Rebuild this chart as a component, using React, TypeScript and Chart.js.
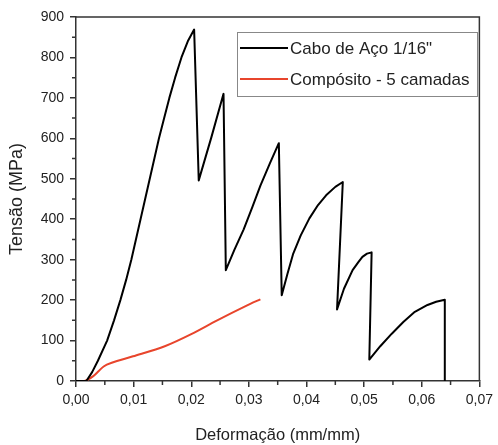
import { useEffect, useRef } from 'react';
import { Chart, registerables } from 'chart.js';

Chart.register(...registerables);

const FONT = '"Liberation Sans", Arial, Helvetica, sans-serif';

// Cabo de Aço 1/16"
const cableStrain = [0, 0.0018, 0.0028, 0.0038, 0.0054, 0.0066, 0.0077, 0.0087, 0.0096, 0.0104, 0.0112, 0.0120, 0.0128, 0.0136, 0.0144, 0.0153, 0.0162, 0.0172, 0.0183, 0.0194, 0.0205,
  0.0213, 0.0235, 0.0256,
  0.0260, 0.0275, 0.0291, 0.0306, 0.0320, 0.0337, 0.0352,
  0.0357, 0.0367, 0.0377, 0.0390, 0.0405, 0.0420, 0.0434, 0.0450, 0.0463,
  0.0453, 0.0465, 0.0480, 0.0490, 0.0497, 0.0505, 0.0513,
  0.0509, 0.0528, 0.0548, 0.0568, 0.0588, 0.0610, 0.0625, 0.0640, 0.0640];
const cableStress = [0, 0, 22, 50, 100, 150, 200, 250, 300, 350, 400, 450, 500, 550, 600, 650, 700, 750, 800, 840, 869,
  496, 603, 710,
  274, 325, 375, 430, 483, 540, 588,
  212, 265, 315, 360, 402, 435, 459, 480, 492,
  177, 228, 274, 294, 307, 315, 318,
  53, 86, 117, 146, 171, 188, 196, 201, 0];

// Compósito - 5 camadas
const compStrain = [0, 0.0015, 0.0030, 0.0048, 0.0062, 0.0099, 0.0154, 0.0200, 0.0245, 0.0297, 0.0320];
const compStress = [0, 0, 12, 36, 45, 61, 86, 116, 150, 187, 202];

const seriesLabels = ['Cabo de Aço 1/16"', 'Compósito - 5 camadas'];
const seriesColors = ['#000000', '#E8452C'];

const xTitle = 'Deformação (mm/mm)';
const yTitle = 'Tensão (MPa)';

const decorPlugin = {
  id: 'decor',
  afterDraw(chart: any) {
    const ctx = chart.ctx;
    const { left, top, right, bottom } = chart.chartArea;
    const xs = chart.scales.x;
    const ys = chart.scales.y;
    ctx.save();
    ctx.strokeStyle = '#333';
    ctx.lineWidth = 1.5;
    // frame top + right
    ctx.beginPath();
    ctx.moveTo(left, top);
    ctx.lineTo(right, top);
    ctx.lineTo(right, bottom);
    ctx.stroke();
    // minor ticks
    ctx.beginPath();
    for (let i = 0; i < 7; i++) {
      const px = xs.getPixelForValue(0.005 + i * 0.01);
      ctx.moveTo(px, bottom);
      ctx.lineTo(px, bottom + 4);
    }
    for (let i = 0; i < 9; i++) {
      const py = ys.getPixelForValue(50 + i * 100);
      ctx.moveTo(left, py);
      ctx.lineTo(left - 4, py);
    }
    ctx.stroke();
    // legend
    const bx = 237, by = 32, bw = 240, bh = 64;
    ctx.fillStyle = '#fff';
    ctx.fillRect(bx, by, bw, bh);
    ctx.strokeStyle = '#888';
    ctx.lineWidth = 1;
    ctx.strokeRect(bx + 0.5, by + 0.5, bw, bh);
    const rows = [48, 79];
    chart.data.datasets.forEach((ds: any, i: number) => {
      ctx.strokeStyle = ds.borderColor;
      ctx.lineWidth = 2;
      ctx.beginPath();
      ctx.moveTo(240, rows[i]);
      ctx.lineTo(288, rows[i]);
      ctx.stroke();
      ctx.fillStyle = '#222';
      ctx.font = `17px ${FONT}`;
      ctx.textBaseline = 'middle';
      ctx.textAlign = 'left';
      ctx.fillText(ds.label, 290, rows[i] + 1);
    });
    ctx.restore();
  },
};

export default function App() {
  const ref = useRef<HTMLCanvasElement>(null);
  useEffect(() => {
    const chart = new Chart(ref.current as HTMLCanvasElement, {
      type: 'scatter',
      data: {
        datasets: [
          {
            label: seriesLabels[0],
            data: cableStrain.map((x, i) => ({ x, y: cableStress[i] })),
            showLine: true,
            borderColor: seriesColors[0],
            backgroundColor: seriesColors[0],
            borderWidth: 2,
            pointRadius: 0,
            tension: 0,
            borderJoinStyle: 'round',
          },
          {
            label: seriesLabels[1],
            data: compStrain.map((x, i) => ({ x, y: compStress[i] })),
            showLine: true,
            borderColor: seriesColors[1],
            backgroundColor: seriesColors[1],
            borderWidth: 2,
            pointRadius: 0,
            tension: 0.3,
          },
        ],
      },
      options: {
        responsive: false,
        animation: false,
        devicePixelRatio: 1,
        layout: { padding: { top: 17, right: 13, left: 0, bottom: 0 } },
        plugins: { legend: { display: false }, tooltip: { enabled: false } },
        scales: {
          x: {
            type: 'linear',
            min: 0,
            max: 0.07,
            ticks: {
              stepSize: 0.01,
              autoSkip: false,
              maxRotation: 0,
              padding: 5,
              color: '#222',
              font: { family: FONT, size: 14 },
              callback: (v: any) => Number(v).toFixed(2).replace('.', ','),
            },
            grid: { drawOnChartArea: false, drawTicks: true, tickLength: 6, color: '#333', lineWidth: 1.5 },
            border: { display: true, color: '#333', width: 1.5 },
            title: { display: true, text: xTitle, color: '#222', font: { family: FONT, size: 16.5 }, padding: { top: 0, bottom: 0 } },
            afterFit: (s: any) => { s.height = 64; },
          },
          y: {
            type: 'linear',
            min: 0,
            max: 900,
            ticks: {
              stepSize: 100,
              autoSkip: false,
              padding: 6,
              color: '#222',
              font: { family: FONT, size: 14 },
              callback: (v: any) => String(v),
            },
            grid: { drawOnChartArea: false, drawTicks: true, tickLength: 6, color: '#333', lineWidth: 1.5 },
            border: { display: true, color: '#333', width: 1.5 },
            title: { display: true, text: yTitle, color: '#222', font: { family: FONT, size: 18 }, padding: { top: 6, bottom: 0 } },
            afterFit: (s: any) => { s.width = 76; },
          },
        },
      } as any,
      plugins: [decorPlugin],
    });
    return () => chart.destroy();
  }, []);
  return (
    <div style={{ position: 'fixed', left: 0, top: 0, width: 498, height: 445, background: '#fff' }}>
      <canvas ref={ref} width={498} height={445} style={{ width: 498, height: 445, display: 'block' }} />
    </div>
  );
}
